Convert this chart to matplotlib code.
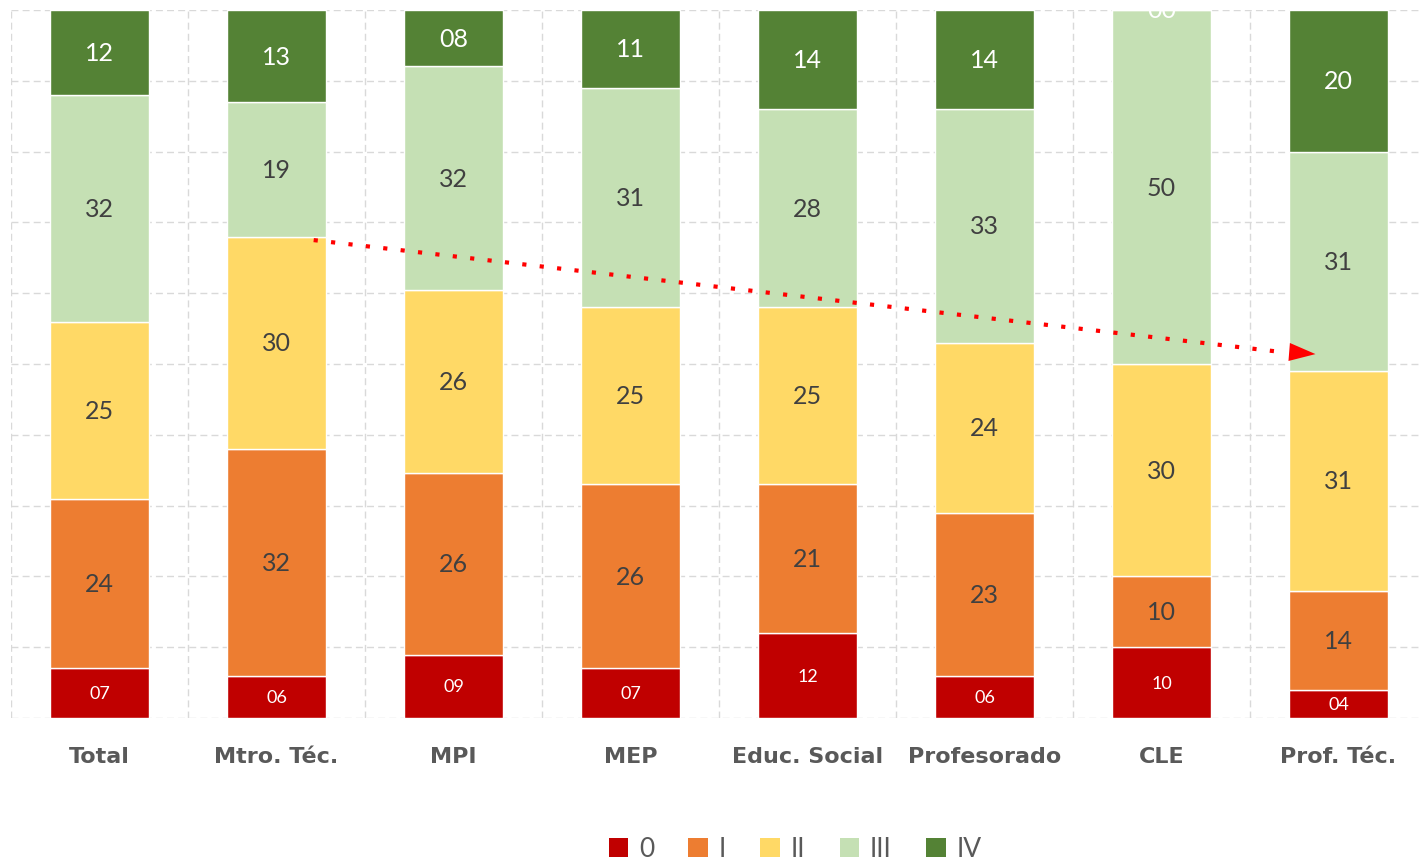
import numpy as np
import matplotlib
matplotlib.use("Agg")
import matplotlib.pyplot as plt
from matplotlib.patches import Patch

# Data (percent per level)
categories = ["Total", "Mtro. Téc.", "MPI", "MEP", "Educ. Social", "Profesorado", "CLE", "Prof. Téc."]
levels = ["0", "I", "II", "III", "IV"]
nivel_0 = [7, 6, 9, 7, 12, 6, 10, 4]
nivel_1 = [24, 32, 26, 26, 21, 23, 10, 14]
nivel_2 = [25, 30, 26, 25, 25, 24, 30, 31]
nivel_3 = [32, 19, 32, 31, 28, 33, 50, 31]
nivel_4 = [12, 13, 8, 11, 14, 14, 0, 20]

# Colors
COLORS = ["#C00000", "#ED7D31", "#FFD966", "#C5E0B4", "#548235"]
LABEL_COLORS = ["white", "#404040", "#404040", "#404040", "white"]
GRID_COLOR = "#D9D9D9"
TEXT_GRAY = "#595959"

series = np.array([nivel_0, nivel_1, nivel_2, nivel_3, nivel_4], dtype=float)
# stacked to 100%
shares = series / series.sum(axis=0) * 100

fig = plt.figure(figsize=(14.21, 8.62), dpi=100)
ax = fig.add_axes([11 / 1421, 143 / 862, 1416 / 1421, 708 / 862])

x = np.arange(len(categories))
bottom = np.zeros(len(categories))
for i, lvl in enumerate(levels):
    ax.bar(x, shares[i], bottom=bottom, width=0.56, color=COLORS[i],
           edgecolor="white", linewidth=1, zorder=3)
    for j in range(len(categories)):
        yc = bottom[j] + shares[i][j] / 2
        ax.text(x[j], yc, f"{int(series[i][j]):02d}", ha="center", va="center",
                color=LABEL_COLORS[i], fontsize=13 if i == 0 else 18,
                family="Lato", zorder=5, clip_on=False)
    bottom += shares[i]

ax.set_xlim(-0.5, len(categories) - 0.5)
ax.set_ylim(0, 100)

# dashed grid (horizontal every 10%, vertical between categories)
ax.set_yticks(np.arange(0, 101, 10))
ax.set_xticks(np.arange(-0.5, len(categories), 1), minor=True)
ax.grid(axis="y", which="major", color=GRID_COLOR, linestyle=(0, (5, 3)), linewidth=1, zorder=0)
ax.grid(axis="x", which="minor", color=GRID_COLOR, linestyle=(0, (5, 3)), linewidth=1, zorder=0)
ax.set_yticklabels([])
ax.tick_params(axis="y", length=0)
ax.tick_params(axis="x", which="both", length=0)

ax.set_xticks(x)
ax.set_xticklabels(categories, fontsize=16, fontweight="bold", color=TEXT_GRAY, family="DejaVu Sans")
ax.tick_params(axis="x", pad=20)
for spine in ax.spines.values():
    spine.set_visible(False)

# dotted red trend arrow
ax.plot([1.21, 6.71], [67.5, 51.6], color="red", linewidth=3,
        linestyle=(0, (1, 3.2)), dash_capstyle="butt", zorder=6, clip_on=False)
ax.annotate("", xy=(6.87, 51.4), xytext=(6.72, 51.7),
            arrowprops=dict(arrowstyle="-|>,head_length=1.9,head_width=0.65",
                            color="red", lw=0, shrinkA=0, shrinkB=0, mutation_scale=10),
            zorder=7)

handles = [Patch(facecolor=c, edgecolor="none", label=l) for c, l in zip(COLORS, levels)]
fig.legend(handles=handles, loc="center", bbox_to_anchor=(795 / 1421, 1 - 850 / 862),
           ncol=5, frameon=False, handlelength=0.75, handleheight=0.7,
           handletextpad=0.4, columnspacing=1.3,
           prop={"family": "Lato", "size": 19}, labelcolor=TEXT_GRAY)

fig.savefig("out.png", dpi=100, facecolor="white")
